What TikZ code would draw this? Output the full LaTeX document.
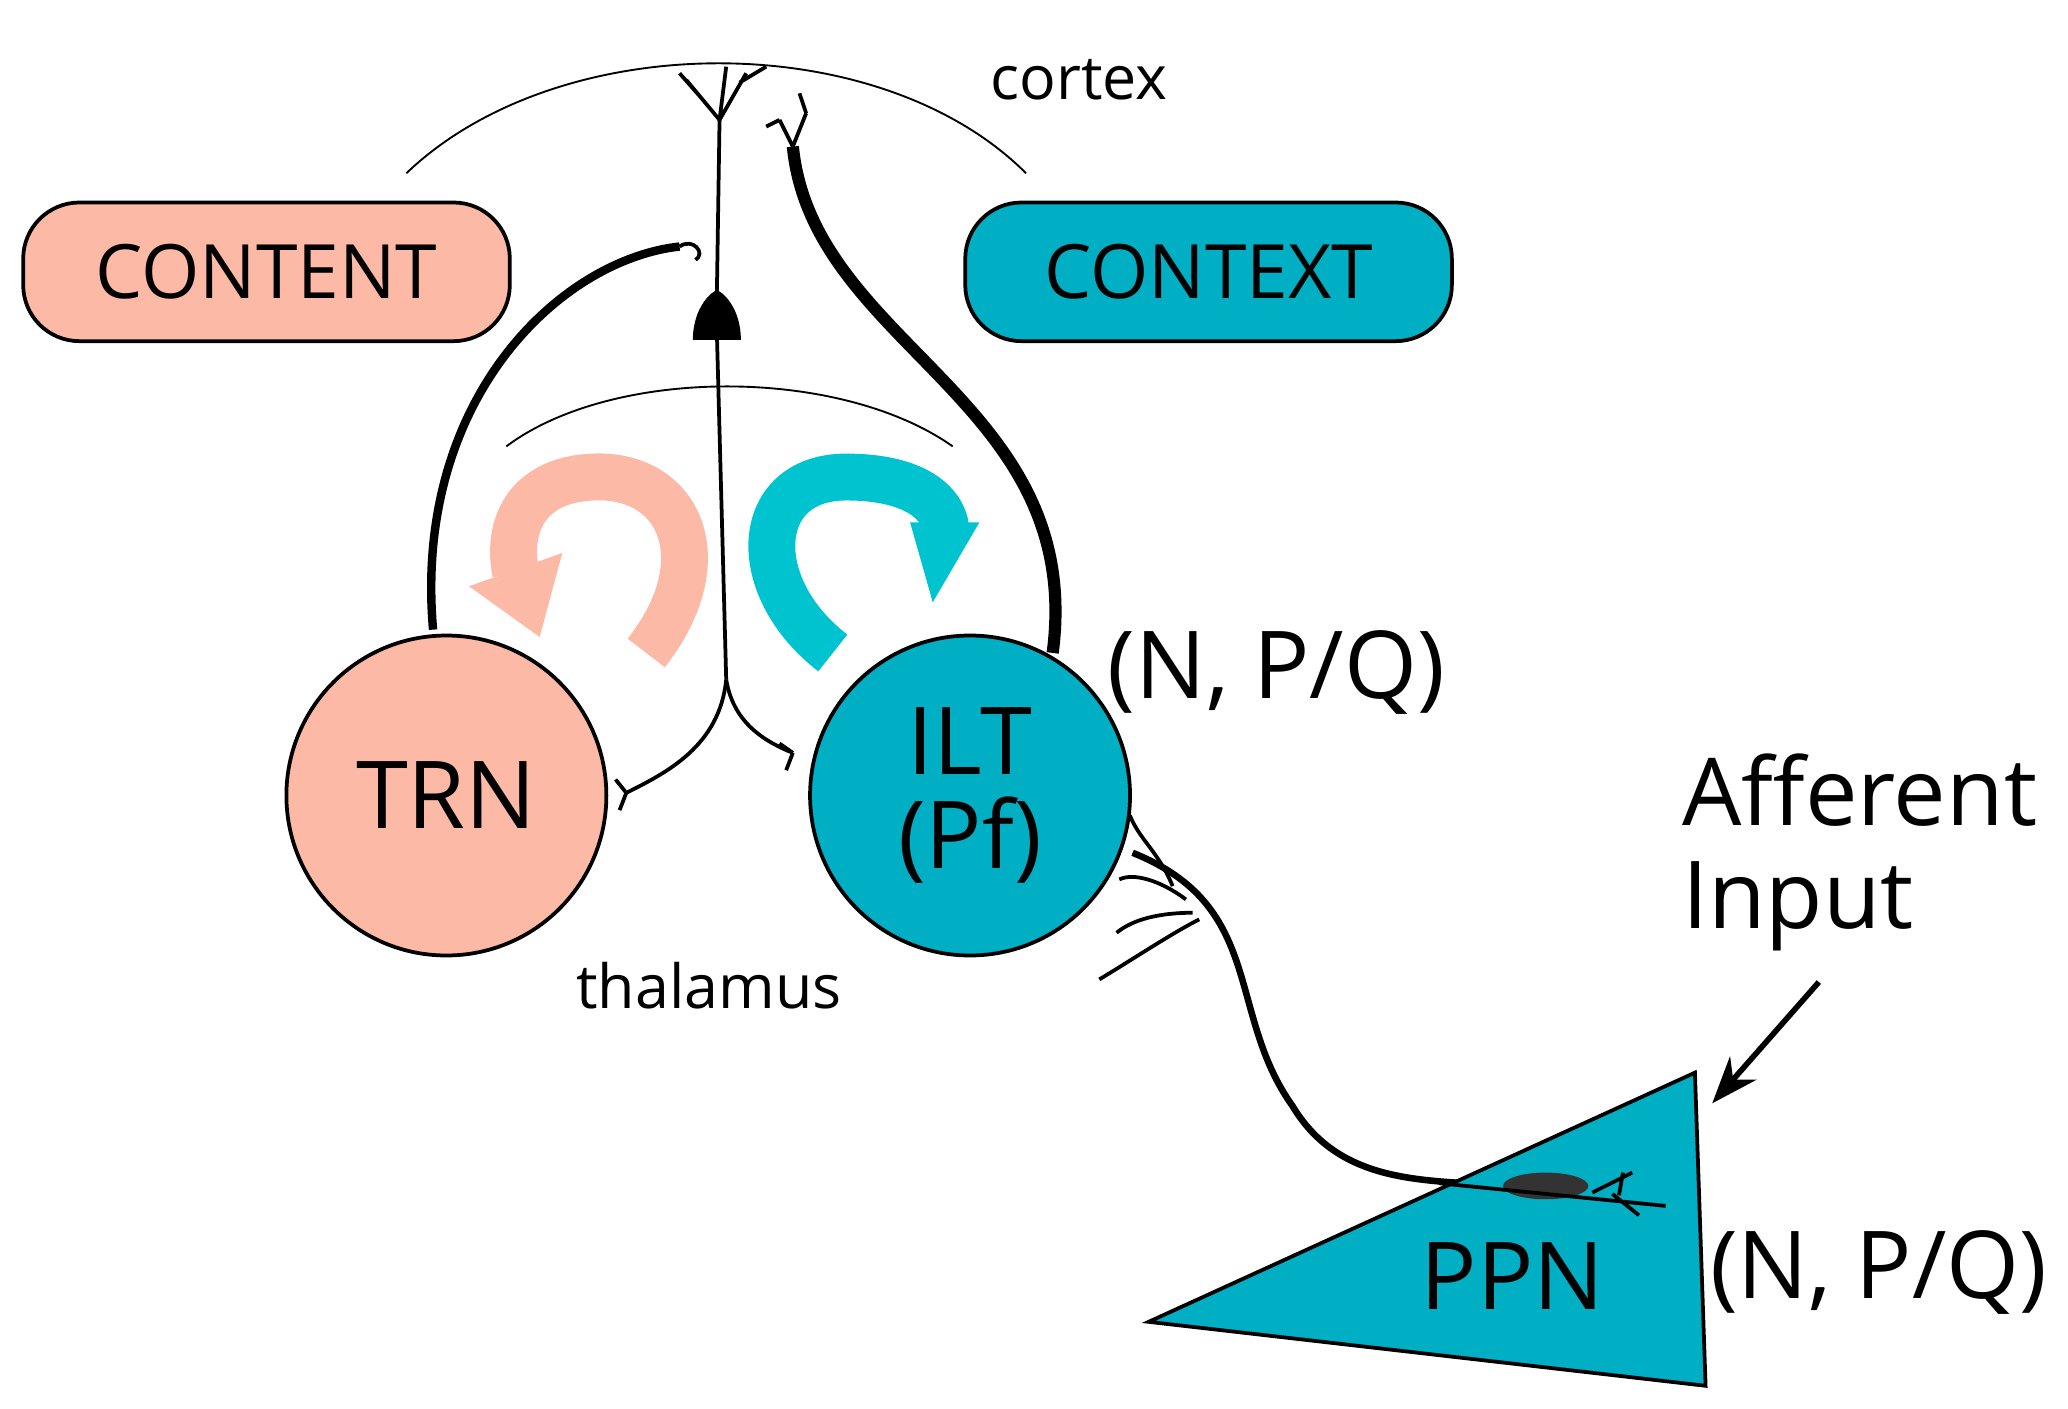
\documentclass[tikz,border=0pt]{standalone}
\usepackage{fontspec}
\setmainfont{Open Sans}
\usetikzlibrary{arrows.meta}
\definecolor{salmon}{HTML}{FBB9A6}
\definecolor{teal}{HTML}{00AFC4}
\definecolor{cyanarr}{HTML}{00C3D0}
\begin{document}
\begin{tikzpicture}[x=0.01cm,y=-0.01cm,
  box/.style={draw=black,line width=0.8pt,rounded corners=12pt,minimum width=3.65cm,minimum height=1.04cm,font=\fontsize{16}{19}\selectfont},
  nuc/.style={circle,draw=black,line width=0.8pt,minimum size=2.4cm,font=\fontsize{20}{22}\selectfont,align=center},
  lbl/.style={font=\fontsize{13}{15}\selectfont},
  big/.style={font=\fontsize{20}{24}\selectfont,align=left},
  fibre/.style={line width=1.8pt},
  thin/.style={line width=0.8pt}]
\useasboundingbox (0,0) rectangle (1552,1057);
% cortex and thalamus arcs
\draw[line width=0.4pt] (305,130) .. controls (420,20) and (660,20) .. (770,130);
\node[lbl] (cortex) at (810,60) {cortex};
\draw[line width=0.4pt] (380,335) .. controls (460,275) and (630,275) .. (715,335);
\node[lbl] (thal) at (532,740) {thalamus};
% boxes
\node[box,fill=salmon] (content) at (200,204) {CONTENT};
\node[box,fill=teal] (context) at (907,204) {CONTEXT};
% nuclei
\node[nuc,fill=salmon] (trn) at (335,597) {TRN};
\node[nuc,fill=teal] (ilt) at (728,597) {ILT\\[-2pt](Pf)};
% projection fibres
\draw[fibre] (trn.north) ++(-10,-3) .. controls (310,300) and (420,195) .. (510,185);
\draw[thin] (510,185) .. controls (520,178) and (530,190) .. (522,195);
\draw[fibre,line width=2.6pt] (790,490) .. controls (815,300) and (610,260) .. (595,110);
\draw[thin] (595,110) -- (585,90) (595,110) -- (605,85) (585,90)--(575,95) (605,85)--(600,70);
% pyramidal neuron
\fill (520,255) .. controls (520,230) and (535,218) .. (538,218) .. controls (541,218) and (556,230) .. (556,255) -- cycle;
\draw[thin] (538,220) -- (540,90);
\draw[thin] (540,90) -- (515,60) (540,90) -- (560,55) (540,90)--(545,50) (525,72)--(510,55) (555,62)--(575,50);
\draw[thin] (538,250) -- (545,510);
\draw[thin] (545,510) .. controls (540,560) and (500,580) .. (470,595);
\draw[thin] (545,510) .. controls (550,540) and (570,555) .. (595,565);
\draw[thin] (470,595)--(462,585) (470,595)--(465,608);
\draw[thin] (595,565)--(585,558) (595,565)--(590,578);
% loop arrows
\draw[salmon,line width=10pt]
  (485,490) .. controls (540,420) and (510,355) .. (445,358) .. controls (395,360) and (380,395) .. (387,430);
\fill[salmon] (352,440) -- (422,415) -- (405,478) -- cycle;
\draw[cyanarr,line width=10pt]
  (625,490) .. controls (560,440) and (565,358) .. (635,358) .. controls (690,358) and (710,380) .. (710,400);
\fill[cyanarr] (683,392) -- (735,392) -- (700,452) -- cycle;
\node[big] (np1) at (958,505) {(N, P/Q)};
% axon to PPN
\draw[fibre,line width=1.4pt] (850,640) .. controls (950,680) and (920,760) .. (970,830) .. controls (1000,880) and (1050,885) .. (1100,888);
\draw[thin] (880,665) .. controls (870,640) and (855,630) .. (848,612);
\draw[thin] (890,675) .. controls (870,660) and (850,655) .. (840,660);
\draw[thin] (900,690) .. controls (880,700) and (850,720) .. (825,735);
\draw[thin] (895,685) .. controls (870,685) and (850,690) .. (838,700);
% PPN triangle
\draw[fill=teal,line width=0.8pt] (862,992) -- (1272,805) -- (1280,1040) -- cycle;
\node[font=\fontsize{20}{22}\selectfont] (ppn) at (1135,958) {PPN};
\fill[black!80] (1160,890) ellipse (32 and 10);
\draw[thin] (1080,888) -- (1250,905) (1195,895)--(1225,880) (1210,896)--(1230,912) (1215,897)--(1218,880);
\node[big,anchor=west] (aff) at (1250,640) {Afferent\\[-2pt]Input};
\coordinate (a0) at (1365,737);
\draw[thin,line width=1.2pt,-{Stealth[length=10pt]}] (a0) -- (1285,828);
\node[big] (np2) at (1410,955) {(N, P/Q)};
\end{tikzpicture}
\end{document}
